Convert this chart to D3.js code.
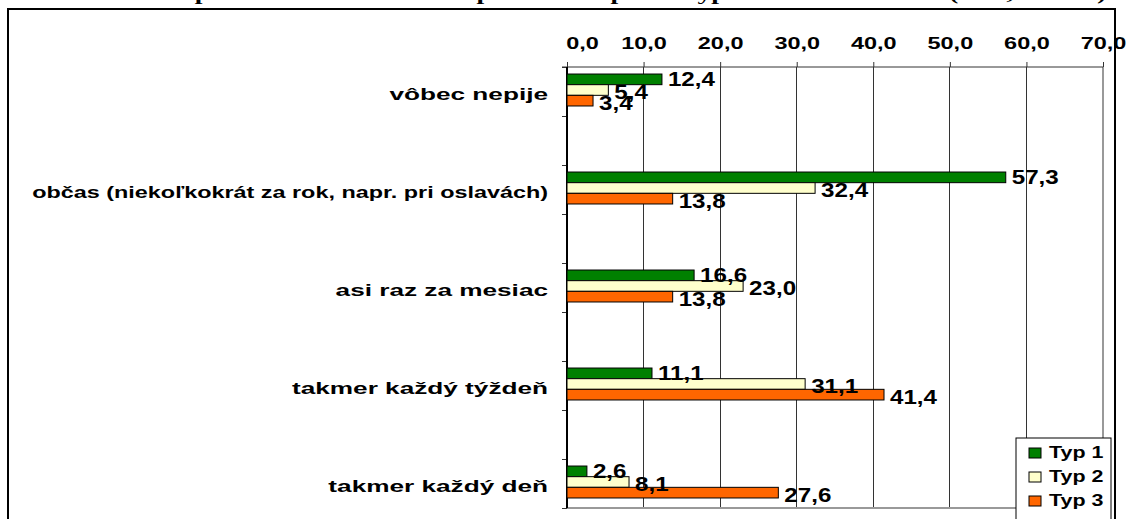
<!DOCTYPE html>
<html>
<head>
<meta charset="utf-8">
<script src="https://cdn.jsdelivr.net/npm/d3@7/dist/d3.min.js"></script>
<style>
  html, body { margin: 0; padding: 0; background: #fff; }
  svg { display: block; }
  text { font-family: "Liberation Sans", Arial, sans-serif; font-weight: bold; fill: #000; }
</style>
</head>
<body>
<svg id="chart" width="1128" height="519"></svg>
<script>
// Frequency categories, top to bottom
const categories = [
  "vôbec nepije",
  "občas (niekoľkokrát za rok, napr. pri oslavách)",
  "asi raz za mesiac",
  "takmer každý týždeň",
  "takmer každý deň"
];
const seriesNames = ["Typ 1", "Typ 2", "Typ 3"];
const typ1 = [12.4, 57.3, 16.6, 11.1, 2.6];
const typ2 = [5.4, 32.4, 23.0, 31.1, 8.1];
const typ3 = [3.4, 13.8, 13.8, 41.4, 27.6];
const xTicks = [0, 10, 20, 30, 40, 50, 60, 70];
const titleText = "Frekvencia pitia alkoholu medzi respondentmi podľa typu osobnosti žiakov (v %, N=229)";

const colors = ["#008000", "#FFFFCC", "#FF6600"];
const values = [typ1, typ2, typ3];
const fmt = v => v.toFixed(1).replace(".", ",");
const SX = 1.38;       // horizontal stretch of the lettering
const SX_TITLE = 1.62; // stretch of the title
const SX_CAT = 1.54;   // stretch of the category names
const CAT_MAX = 516;   // widest a category name may get

const svg = d3.select("#chart");

// title, sitting above the top edge, and the outer frame
svg.append("text")
  .attr("transform", `translate(57,-0.5) scale(${SX_TITLE},1)`)
  .style("font-family", "'Liberation Serif', 'Times New Roman', serif")
  .style("font-size", "17px")
  .text(titleText);
svg.append("rect")
  .attr("x", 8).attr("y", 9).attr("width", 1107).attr("height", 530)
  .attr("fill", "none").attr("stroke", "#000").attr("stroke-width", 2);

const x = d3.scaleLinear().domain([0, 70]).range([567, 1103]);

// each category row is followed by an empty spacer row
const slots = d3.range(categories.length * 2 - 1);
const y = d3.scaleBand().domain(slots).range([67, 508]).padding(0);
const yInner = d3.scaleBand().domain(d3.range(seriesNames.length))
  .range([0, y.bandwidth()]).paddingInner(0).paddingOuter(0.8);

const plot = svg.append("g");

// vertical gridlines
plot.append("g").selectAll("line")
  .data(xTicks.filter(t => t > 0 && t < 70))
  .join("line")
  .attr("x1", d => x(d)).attr("x2", d => x(d))
  .attr("y1", 67).attr("y2", 508)
  .attr("stroke", "#333").attr("stroke-width", 1)
  .attr("shape-rendering", "crispEdges");

// plot area border (right, bottom)
plot.append("path")
  .attr("d", `M${x(70)},67V508H567`)
  .attr("fill", "none").attr("stroke", "#999").attr("stroke-width", 1.5)
  .attr("shape-rendering", "crispEdges");

// top value axis; the first label is nudged clear of the category axis
const xAxis = d3.axisTop(x).tickValues(xTicks).tickSize(5).tickPadding(9)
  .tickFormat(fmt);
const gx = plot.append("g").attr("transform", "translate(0,67)").call(xAxis);
gx.attr("font-family", null).attr("font-size", null);
gx.select(".domain").attr("d", `M562,0H${x(70)}`).attr("stroke", "#333");
gx.selectAll(".tick line").attr("stroke", "#333");
gx.selectAll(".tick text")
  .style("font-size", "17px")
  .attr("y", null).attr("dy", null)
  .attr("transform", d => `translate(${d === 0 ? 15 : 0},-18) scale(${SX},1)`);

// category axis with ticks at every row boundary
const boundaries = slots.map(s => y(s)).concat([y.range()[1]]);
plot.append("g").selectAll("line")
  .data(boundaries).join("line")
  .attr("x1", 562).attr("x2", 567)
  .attr("y1", d => d).attr("y2", d => d)
  .attr("stroke", "#333").attr("shape-rendering", "crispEdges");
plot.append("line")
  .attr("x1", 567).attr("x2", 567).attr("y1", 67).attr("y2", 508)
  .attr("stroke", "#000").attr("stroke-width", 1.2)
  .attr("shape-rendering", "crispEdges");

// category labels, stretched but kept within the left margin
plot.append("g").selectAll("text")
  .data(categories).join("text")
  .attr("text-anchor", "end")
  .attr("dominant-baseline", "middle")
  .style("font-size", "17px")
  .text(d => d)
  .attr("transform", function(d, i) {
    const w = this.getComputedTextLength();
    const sx = Math.min(SX_CAT, CAT_MAX / w);
    return `translate(548,${y(2 * i) + y.bandwidth() / 2 + 4}) scale(${sx},1)`;
  });

// bars
const rows = [];
categories.forEach((c, i) => {
  values.forEach((vals, s) => rows.push({ cat: i, s, v: vals[i] }));
});
const bars = plot.append("g");
bars.selectAll("rect").data(rows).join("rect")
  .attr("x", x(0))
  .attr("y", d => y(2 * d.cat) + yInner(d.s) - 1.5)
  .attr("width", d => x(d.v) - x(0))
  .attr("height", yInner.bandwidth())
  .attr("fill", d => colors[d.s])
  .attr("stroke", "#000").attr("stroke-width", 1);

// value labels
const labelShift = [0, 2, 3];
bars.selectAll("text").data(rows).join("text")
  .attr("dominant-baseline", "middle")
  .style("font-size", "21px")
  .attr("transform", d => `translate(${x(d.v) + 6},${y(2 * d.cat) + yInner(d.s) - 1.5 + yInner.bandwidth() / 2 + labelShift[d.s] + 1}) scale(1.15,1)`)
  .text(d => fmt(d.v));

// legend
const lg = svg.append("g").attr("transform", "translate(1016,438)");
lg.append("rect").attr("width", 95).attr("height", 90)
  .attr("fill", "#fff").attr("stroke", "#000").attr("stroke-width", 1);
const items = lg.selectAll("g.item").data(seriesNames).join("g")
  .attr("class", "item")
  .attr("transform", (d, i) => `translate(0,${15 + i * 24})`);
items.append("rect")
  .attr("x", 13).attr("y", -5).attr("width", 12).attr("height", 10)
  .attr("fill", (d, i) => colors[i]).attr("stroke", "#000").attr("stroke-width", 1);
items.append("text")
  .attr("dominant-baseline", "middle")
  .style("font-size", "16px")
  .attr("transform", `translate(33,1) scale(1.34,1)`)
  .text(d => d);
</script>
</body>
</html>
